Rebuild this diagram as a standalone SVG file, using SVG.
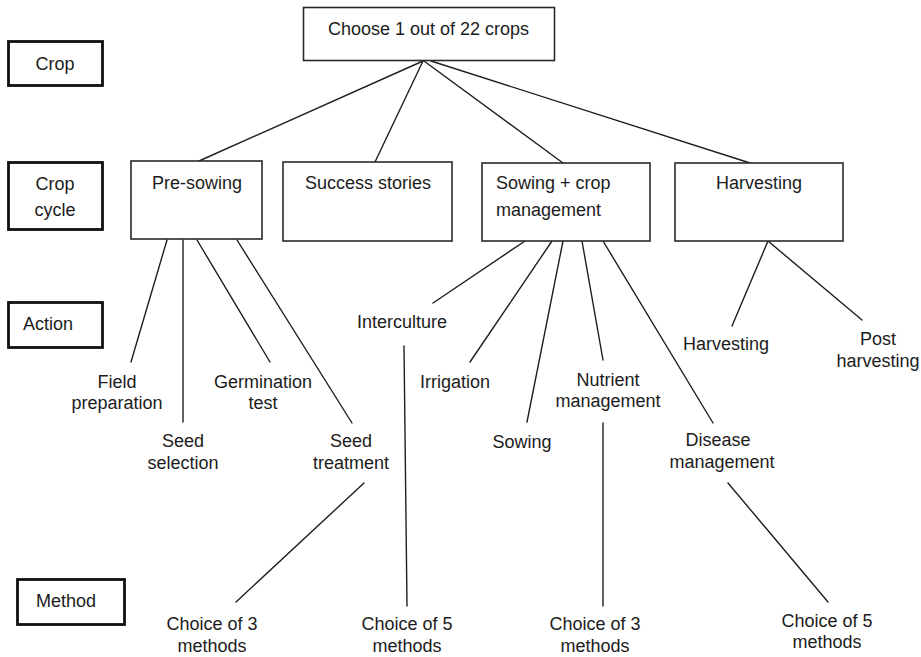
<svg xmlns="http://www.w3.org/2000/svg" width="921" height="657" viewBox="0 0 921 657">
  <style>
    text { font-family: "Liberation Sans", Arial, sans-serif; font-size: 18px; fill: #1c1c1c; }
    .c { text-anchor: middle; }
    .box { fill: #ffffff; stroke: #2a2a2a; stroke-width: 1.6; }
    .tier { fill: #ffffff; stroke: #111111; stroke-width: 2.8; }
    .link { stroke: #1e1e1e; stroke-width: 1.4; fill: none; stroke-linecap: round; }
  </style>
  <rect width="921" height="657" fill="#ffffff"/>

  <!-- tier labels on the left -->
  <g id="tier-crop">
    <rect class="tier" x="8.5" y="41.5" width="94" height="44"/>
    <text class="c" x="55" y="70">Crop</text>
  </g>
  <g id="tier-crop-cycle">
    <rect class="tier" x="8.5" y="162.5" width="94" height="67"/>
    <text class="c" x="55" y="190">Crop</text>
    <text class="c" x="55" y="216">cycle</text>
  </g>
  <g id="tier-action">
    <rect class="tier" x="8.5" y="302.5" width="94" height="45"/>
    <text class="c" x="48" y="330">Action</text>
  </g>
  <g id="tier-method">
    <rect class="tier" x="17.5" y="579.5" width="107" height="45"/>
    <text class="c" x="66" y="607">Method</text>
  </g>

  <!-- connectors -->
  <g id="connectors">
    <line class="link" x1="423" y1="61" x2="199" y2="161"/>
    <line class="link" x1="423" y1="61" x2="375" y2="162"/>
    <line class="link" x1="424" y1="61" x2="563" y2="163"/>
    <line class="link" x1="431" y1="61" x2="750" y2="163"/>

    <line class="link" x1="167" y1="240" x2="131" y2="362"/>
    <line class="link" x1="183" y1="240" x2="183" y2="422"/>
    <line class="link" x1="197" y1="240" x2="270" y2="362"/>
    <line class="link" x1="237" y1="240" x2="352" y2="423"/>

    <line class="link" x1="525" y1="241" x2="433" y2="303"/>
    <line class="link" x1="552" y1="241" x2="470" y2="362"/>
    <line class="link" x1="563" y1="241" x2="527" y2="422"/>
    <line class="link" x1="582" y1="241" x2="603" y2="360"/>
    <line class="link" x1="603" y1="241" x2="713" y2="423"/>

    <line class="link" x1="768" y1="241" x2="732" y2="326"/>
    <line class="link" x1="768" y1="241" x2="862" y2="320"/>

    <line class="link" x1="364" y1="483" x2="236" y2="602"/>
    <line class="link" x1="404" y1="346" x2="407" y2="606"/>
    <line class="link" x1="603" y1="423" x2="603" y2="606"/>
    <line class="link" x1="728" y1="483" x2="828" y2="602"/>
  </g>

  <!-- crop -->
  <g id="node-choose-crop">
    <rect class="box" x="303.5" y="7.5" width="251" height="53"/>
    <text class="c" x="428.5" y="35">Choose 1 out of 22 crops</text>
  </g>

  <!-- crop cycle -->
  <g id="node-pre-sowing">
    <rect class="box" x="131" y="161" width="131" height="78"/>
    <text class="c" x="197" y="189">Pre-sowing</text>
  </g>
  <g id="node-success-stories">
    <rect class="box" x="283" y="162" width="169" height="79"/>
    <text class="c" x="368" y="189">Success stories</text>
  </g>
  <g id="node-sowing-crop-management">
    <rect class="box" x="482" y="163" width="168" height="78"/>
    <text x="496" y="189">Sowing + crop</text>
    <text x="496" y="216">management</text>
  </g>
  <g id="node-harvesting-cycle">
    <rect class="box" x="675" y="163" width="168" height="78"/>
    <text class="c" x="759" y="189">Harvesting</text>
  </g>

  <!-- actions -->
  <g id="node-field-preparation">
    <text class="c" x="117" y="388">Field</text>
    <text class="c" x="117" y="409">preparation</text>
  </g>
  <g id="node-seed-selection">
    <text class="c" x="183" y="447">Seed</text>
    <text class="c" x="183" y="469">selection</text>
  </g>
  <g id="node-germination-test">
    <text class="c" x="263" y="388">Germination</text>
    <text class="c" x="263" y="409">test</text>
  </g>
  <g id="node-seed-treatment">
    <text class="c" x="351" y="447">Seed</text>
    <text class="c" x="351" y="469">treatment</text>
  </g>
  <g id="node-interculture">
    <text class="c" x="402" y="328">Interculture</text>
  </g>
  <g id="node-irrigation">
    <text class="c" x="455" y="388">Irrigation</text>
  </g>
  <g id="node-sowing">
    <text class="c" x="522" y="448">Sowing</text>
  </g>
  <g id="node-nutrient-management">
    <text class="c" x="608" y="386">Nutrient</text>
    <text class="c" x="608" y="407">management</text>
  </g>
  <g id="node-disease-management">
    <text class="c" x="718" y="446">Disease</text>
    <text class="c" x="722" y="468">management</text>
  </g>
  <g id="node-harvesting">
    <text class="c" x="726" y="350">Harvesting</text>
  </g>
  <g id="node-post-harvesting">
    <text class="c" x="878" y="345">Post</text>
    <text class="c" x="878" y="367">harvesting</text>
  </g>

  <!-- methods -->
  <g id="node-methods-seed-treatment">
    <text class="c" x="212" y="630">Choice of 3</text>
    <text class="c" x="212" y="652">methods</text>
  </g>
  <g id="node-methods-interculture">
    <text class="c" x="407" y="630">Choice of 5</text>
    <text class="c" x="407" y="652">methods</text>
  </g>
  <g id="node-methods-nutrient">
    <text class="c" x="595" y="630">Choice of 3</text>
    <text class="c" x="595" y="652">methods</text>
  </g>
  <g id="node-methods-disease">
    <text class="c" x="827" y="627">Choice of 5</text>
    <text class="c" x="827" y="648">methods</text>
  </g>
</svg>
